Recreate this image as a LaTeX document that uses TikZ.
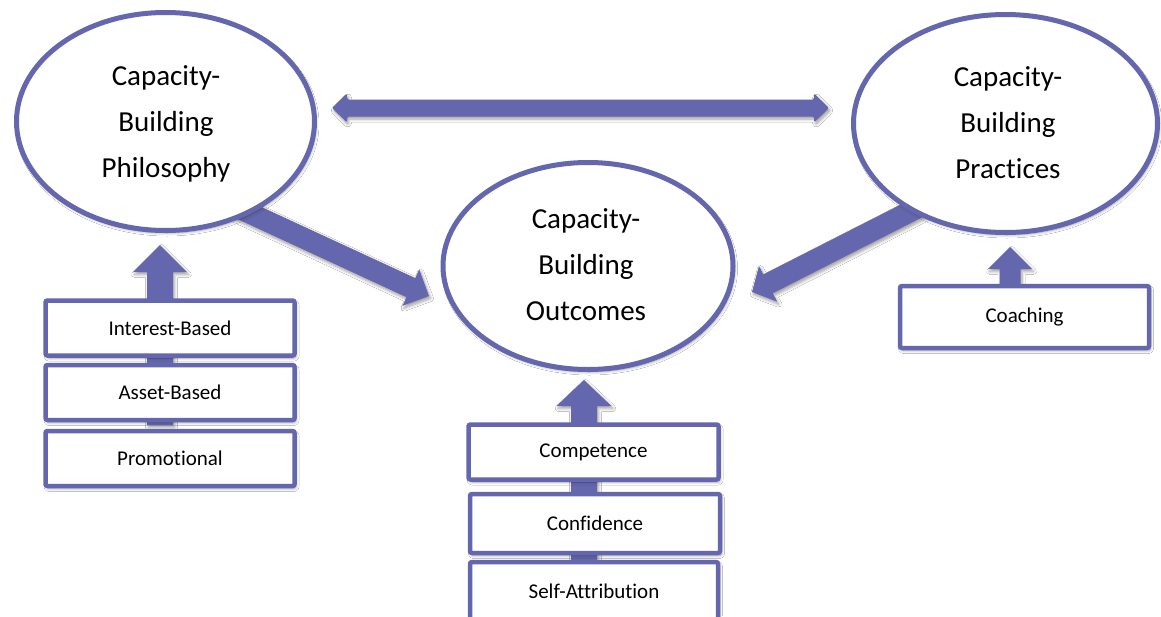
\documentclass[tikz,border=0pt]{standalone}
\usepackage{fontspec}
\setmainfont{Carlito}[Ligatures={NoCommon}]
\usetikzlibrary{calc,shapes.geometric,shadows.blur}
\definecolor{pur}{RGB}{101,103,174}
\tikzset{
  shad/.style={blur shadow={shadow xshift=1.5pt,shadow yshift=-2.5pt,shadow blur radius=3pt,shadow opacity=38,shadow blur steps=6}},
  bigell/.style={ellipse,draw=pur,line width=5pt,fill=white,shad,font=\fontsize{29}{46}\selectfont,align=center,inner sep=0pt},
  itembox/.style={rectangle,rounded corners=2pt,draw=pur,line width=4.5pt,fill=white,shad,font=\fontsize{21}{25}\selectfont,minimum width=249pt,minimum height=55pt,inner sep=0pt},
  blk/.style={fill=pur,shad},
}
% #1 start, #2 tip, #3 half shaft, #4 half head, #5 head length (all in pt)
\newcommand\blkarrow[5]{%
  \coordinate (tmpb) at ($(#2)!#5pt!(#1)$);
  \path[blk] ($(#1)!#3pt!-90:(#2)$) -- ($(tmpb)!#3pt!-90:(#2)$) -- ($(tmpb)!#4pt!-90:(#2)$) -- (#2)
    -- ($(tmpb)!#4pt!90:(#2)$) -- ($(tmpb)!#3pt!90:(#2)$) -- ($(#1)!#3pt!90:(#2)$) -- cycle;
}
\begin{document}
\begin{tikzpicture}[x=1pt,y=-1pt]
\useasboundingbox (0,0) rectangle (1161,616);
\fill[white] (0,0) rectangle (1161,616);

% connector end points
\coordinate (hl) at (332,108);
\coordinate (hr) at (829,108);
\coordinate (dls) at (230,204);
\coordinate (dlt) at (429,296);
\coordinate (drs) at (925,204);
\coordinate (drt) at (752,292);
\coordinate (uls) at (160,425);
\coordinate (ult) at (160,245);
\coordinate (ums) at (584,560);
\coordinate (umt) at (584,380);
\coordinate (urs) at (1010,284);
\coordinate (urt) at (1010,247);

% horizontal double arrow
\path[blk,rounded corners=1.5pt] (hl) -- ($(hl)+(15,-14.5)$) -- ($(hl)+(15,-8.5)$) -- ($(hr)+(-15,-8.5)$)
  -- ($(hr)+(-15,-14.5)$) -- (hr) -- ($(hr)+(-15,14.5)$) -- ($(hr)+(-15,8.5)$)
  -- ($(hl)+(15,8.5)$) -- ($(hl)+(15,14.5)$) -- cycle;

% diagonal arrows
\blkarrow{dls}{dlt}{10.5}{20}{20}
\blkarrow{drs}{drt}{10.5}{20}{18}

% upward arrows
\blkarrow{uls}{ult}{13}{27}{27}
\blkarrow{ums}{umt}{13}{27.5}{26}
\blkarrow{urs}{urt}{10.5}{22}{22}

% ellipses
\node[bigell,minimum width=298pt,minimum height=218pt] (phil) at (165.5,121.5) {};
\node[font=\fontsize{29}{46}\selectfont,align=center,inner sep=0pt] (philt) at (166,123.5) {Capacity-\\Building\\Philosophy};
\node[bigell,minimum width=304pt,minimum height=218pt] (prac) at (1005.5,123.5) {};
\node[font=\fontsize{29}{46}\selectfont,align=center,inner sep=0pt] (pract) at (1008,122.5) {Capacity-\\Building\\Practices};
\node[bigell,minimum width=290pt,minimum height=207pt] (outc) at (588,266) {};
\node[font=\fontsize{29}{46}\selectfont,align=center,inner sep=0pt] (outct) at (586,265) {Capacity-\\Building\\Outcomes};

% boxes
\node[itembox] (interest) at (170,328) {Interest-Based};
\node[itembox] (asset) at (170,392.5) {Asset-Based};
\node[itembox] (promo) at (170,458.5) {Promotional};
\node[itembox,minimum width=250pt] (comp) at (593.5,452) {Competence};
\node[itembox,minimum width=250pt,minimum height=59pt] (conf) at (595,523.5) {Confidence};
\node[itembox,minimum width=248pt,minimum height=58pt] (selfa) at (594,591) {Self-Attribution};
\node[itembox,minimum width=249pt,minimum height=62pt] (coach) at (1024.5,317) {Coaching};
\end{tikzpicture}
\end{document}
